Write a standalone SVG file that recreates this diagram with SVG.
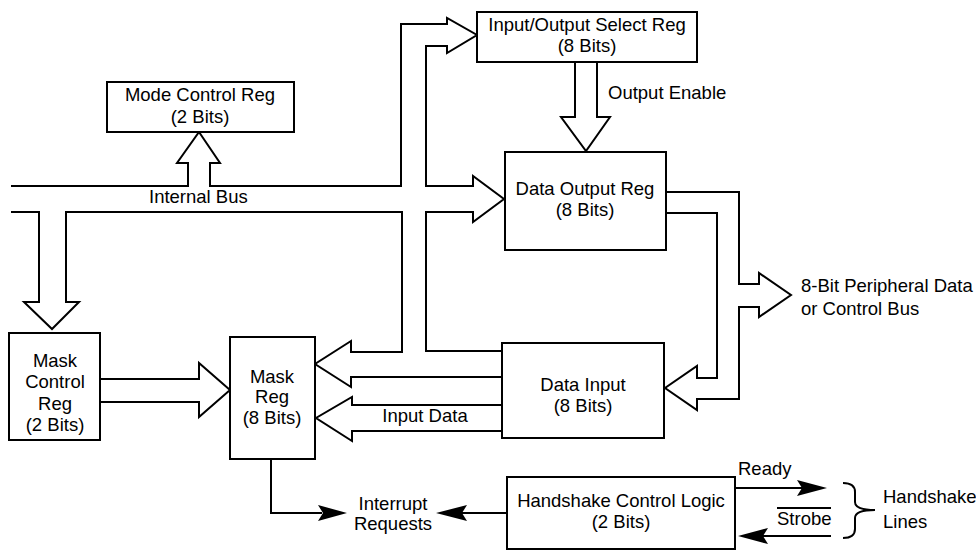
<svg xmlns="http://www.w3.org/2000/svg" width="976" height="550" viewBox="0 0 976 550">
<style>
.box{fill:#fff;stroke:#000;stroke-width:2}
.bus{fill:none;stroke:#000;stroke-width:2;stroke-linejoin:miter}
.ln{fill:none;stroke:#000;stroke-width:2}
.ah{fill:#000;stroke:none}
text{font-family:"Liberation Sans",Arial,sans-serif;font-size:18.5px;fill:#000}
.c{text-anchor:middle}
</style>
<rect width="976" height="550" fill="#fff"/>
<g id="connectors">
<path class="bus" d="M11,186 H188 V163 H177 L199,132 L220,163 H210 V186 H401 V24 H447 V18 L477,35 L447,53 V46 H426 V186 H473 V176 L504,199 L473,222 V212 H426 V351 H502"/>
<path class="bus" d="M11,212 H39 V302 H24 L52,329 L79,302 H66 V212 H402 V352 H351 V341 L315,364 L351,387 V377 H502"/>
<path class="bus" d="M502,405 H352 V397 L316,418 L352,441 V431 H502"/>
<path class="bus" d="M100,379 H199 V363 L230,390 L199,417 V402 H100"/>
<path class="bus" d="M575,62 V117 H561 L586,151 L610,117 H597 V62"/>
<path class="bus" d="M666,192 H739 V284 H759 V273 L791,295 L759,317 V307 H739 V399 H697 V410 L665,388 L697,366 V378 H717 V213 H666"/>
<path class="ln" d="M271,459 V513 H322"/>
<polygon class="ah" points="347,513 318,505 323,513 318,521"/>
<path class="ln" d="M507,513 H462"/>
<polygon class="ah" points="436,513 467,505 462,513 467,521"/>
<path class="ln" d="M735,488 H802"/>
<polygon class="ah" points="827,488 797,480 802,488 797,496"/>
<path class="ln" d="M831,536 H763"/>
<polygon class="ah" points="738,536 768,528 763,536 768,544"/>
<path class="ln" d="M843,483 Q855,483 855,492 V502 Q855,510 875,510 Q855,510 855,518 V529 Q855,538 843,538"/>
<line class="ln" x1="777" y1="508" x2="831" y2="508"/>
</g>
<g id="mode-control-reg">
<rect class="box" x="107" y="82" width="187" height="50"/>
<text class="c" x="200" y="101">Mode Control Reg</text>
<text class="c" x="200" y="123">(2 Bits)</text>
</g>
<g id="io-select-reg">
<rect class="box" x="477" y="12" width="220" height="50"/>
<text class="c" x="587" y="31">Input/Output Select Reg</text>
<text class="c" x="587" y="52">(8 Bits)</text>
</g>
<g id="data-output-reg">
<rect class="box" x="505" y="152" width="161" height="98"/>
<text class="c" x="585" y="195">Data Output Reg</text>
<text class="c" x="585" y="216">(8 Bits)</text>
</g>
<g id="mask-control-reg">
<rect class="box" x="9" y="333" width="91" height="107"/>
<text class="c" x="55" y="367">Mask</text>
<text class="c" x="55" y="388">Control</text>
<text class="c" x="55" y="410">Reg</text>
<text class="c" x="55" y="431">(2 Bits)</text>
</g>
<g id="mask-reg">
<rect class="box" x="230" y="337" width="85" height="122"/>
<text class="c" x="272" y="383">Mask</text>
<text class="c" x="272" y="403">Reg</text>
<text class="c" x="272" y="424">(8 Bits)</text>
</g>
<g id="data-input">
<rect class="box" x="502" y="343" width="162" height="95"/>
<text class="c" x="583" y="391">Data Input</text>
<text class="c" x="583" y="412">(8 Bits)</text>
</g>
<g id="handshake-control-logic">
<rect class="box" x="507" y="477" width="228" height="72"/>
<text class="c" x="621" y="507">Handshake Control Logic</text>
<text class="c" x="621" y="528">(2 Bits)</text>
</g>
<g id="labels">
<text x="149" y="203">Internal Bus</text>
<text x="608" y="99">Output Enable</text>
<text x="801" y="292">8-Bit Peripheral Data</text>
<text x="801" y="315">or Control Bus</text>
<text class="c" x="425" y="422">Input Data</text>
<text class="c" x="393" y="510">Interrupt</text>
<text class="c" x="393" y="530">Requests</text>
<text x="738" y="475">Ready</text>
<text x="777" y="525">Strobe</text>
<text x="883" y="503">Handshake</text>
<text x="883" y="528">Lines</text>
</g>
</svg>
